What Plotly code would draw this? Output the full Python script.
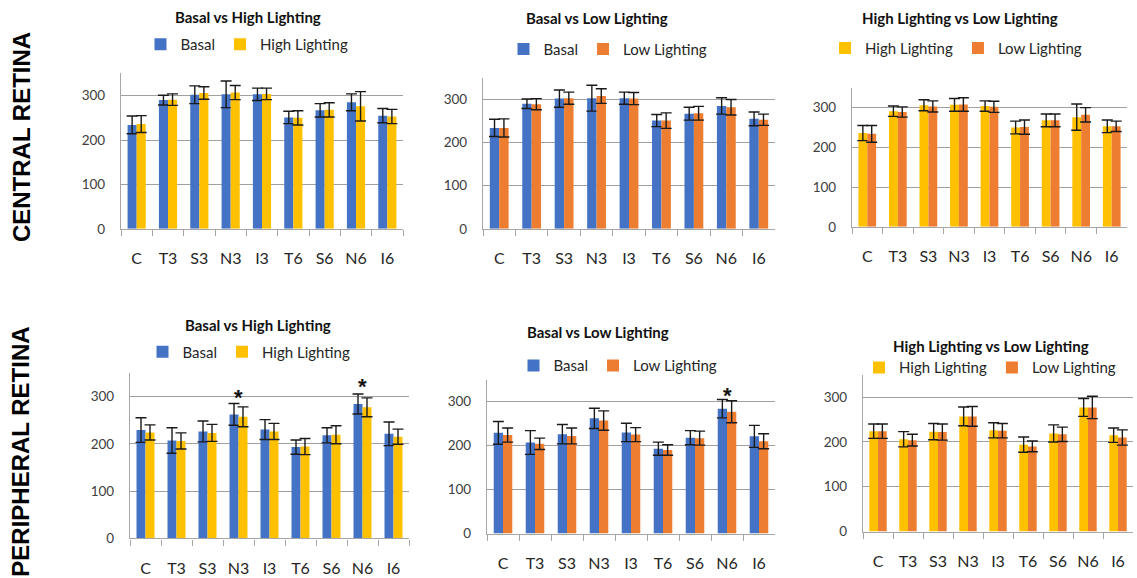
import plotly.graph_objects as go

# Retinal regions on the x axis
regions = ["C", "T3", "S3", "N3", "I3", "T6", "S6", "N6", "I6"]

# Central retina: means and SEM for each condition
central_basal = [234, 290, 302, 303, 303, 251, 267, 285, 255]
central_basal_err = [20, 11, 20, 30, 14, 14, 15, 19, 16]
central_high = [236, 291, 306, 307, 304, 250, 268, 276, 253]
central_high_err = [19, 13, 14, 16, 13, 16, 16, 33, 16]
central_low = [234, 289, 303, 308, 302, 251, 268, 282, 253]
central_low_err = [21, 13, 14, 17, 14, 18, 16, 18, 13]

# Peripheral retina: means and SEM for each condition
periph_basal = [229, 207, 226, 262, 230, 193, 218, 284, 221]
periph_basal_err = [26, 27, 22, 23, 21, 15, 16, 21, 25]
periph_high = [224, 206, 223, 257, 226, 194, 219, 277, 215]
periph_high_err = [16, 17, 18, 21, 17, 17, 19, 20, 16]
periph_low = [224, 204, 222, 257, 225, 190, 217, 277, 210]
periph_low_err = [16, 13, 18, 22, 16, 12, 16, 25, 17]

# Significant differences: (panel index, region, y position of the star)
significance = [(4, "N3", 306), (4, "N6", 329), (5, "N6", 324)]

W, H = 1137, 578
COLORS = {"Basal": "#4472C4", "High Lighting": "#FFC000", "Low Lighting": "#ED7D31"}
FONT = "Lato, 'Open Sans', Arial, sans-serif"


def px_x(v):
    return v / W


def px_y(v):
    return 1 - v / H


# Layout of each panel in pixels: x-left, x-right, y-zero, y-top, title centre, legend centre
panels = [
    dict(title="Basal vs High Lighting",
         series=[("Basal", central_basal, central_basal_err), ("High Lighting", central_high, central_high_err)],
         x0=121, x1=403, yz=232, yt=74.5, tx=248, ty=17, lx=247, ly=45),
    dict(title="Basal vs Low Lighting",
         series=[("Basal", central_basal, central_basal_err), ("Low Lighting", central_low, central_low_err)],
         x0=483, x1=775, yz=232, yt=79, tx=597, ty=18, lx=608, ly=50),
    dict(title="High Lighting vs Low Lighting",
         series=[("High Lighting", central_high, central_high_err), ("Low Lighting", central_low, central_low_err)],
         x0=852, x1=1127, yz=230, yt=89, tx=960, ty=18, lx=956, ly=49),
    dict(title="Basal vs High Lighting",
         series=[("Basal", periph_basal, periph_basal_err), ("High Lighting", periph_high, periph_high_err)],
         x0=130, x1=409, yz=546, yt=378, tx=258, ty=330, lx=249, ly=357),
    dict(title="Basal vs Low Lighting",
         series=[("Basal", periph_basal, periph_basal_err), ("Low Lighting", periph_low, periph_low_err)],
         x0=487, x1=775, yz=541, yt=385, tx=598, ty=337, lx=618, ly=371),
    dict(title="High Lighting vs Low Lighting",
         series=[("High Lighting", periph_high, periph_high_err), ("Low Lighting", periph_low, periph_low_err)],
         x0=863, x1=1133, yz=539, yt=380, tx=991, ty=351, lx=990, ly=373),
]

fig = go.Figure()
layout = dict(
    width=W, height=H,
    margin=dict(l=0, r=0, t=0, b=0),
    paper_bgcolor="white", plot_bgcolor="white",
    barmode="group", bargap=0.42,
    showlegend=True,
    font=dict(family=FONT, color="#404040"),
)
annotations = []

for i, p in enumerate(panels, start=1):
    sfx = "" if i == 1 else str(i)
    xa, ya = "x" + sfx, "y" + sfx
    leg = "legend" + sfx
    for name, vals, errs in p["series"]:
        fig.add_trace(go.Bar(
            x=regions, y=vals, name=name,
            marker=dict(color=COLORS[name], line=dict(width=0)),
            error_y=dict(type="data", array=errs, visible=True,
                         color="#1a1a1a", thickness=1.4, width=5.5),
            xaxis=xa, yaxis=ya, legend=leg,
        ))
    layout["xaxis" + sfx] = dict(
        domain=[px_x(p["x0"]), px_x(p["x1"])], anchor=ya,
        type="category", showline=True, linecolor="#a6a6a6", linewidth=1.3,
        ticks="outside", tickson="boundaries", ticklen=6, tickcolor="#a6a6a6",
        tickwidth=1.3, ticklabelstandoff=15, tickangle=0,
        tickfont=dict(size=16, color="#262626", family=FONT),
        showgrid=False, zeroline=False, fixedrange=True,
    )
    layout["yaxis" + sfx] = dict(
        domain=[px_y(p["yz"]), px_y(p["yt"])], anchor=xa,
        range=[0, 350], dtick=100, tick0=0,
        showline=True, linecolor="#a6a6a6", linewidth=1.3,
        showgrid=True, gridcolor="#a0a0a0", gridwidth=1.2,
        zeroline=False, ticks="", ticklabelstandoff=12,
        tickfont=dict(size=13.5, color="#404040", family=FONT),
        fixedrange=True,
    )
    layout[leg] = dict(
        orientation="h", x=px_x(p["lx"]), y=px_y(p["ly"]),
        xanchor="center", yanchor="middle",
        font=dict(size=15, color="#262626", family=FONT),
        bgcolor="rgba(0,0,0,0)", itemclick=False, itemdoubleclick=False,
        tracegroupgap=0,
    )
    annotations.append(dict(
        text="<b>" + p["title"] + "</b>", x=px_x(p["tx"]), y=px_y(p["ty"]),
        xref="paper", yref="paper", xanchor="center", yanchor="middle",
        showarrow=False, font=dict(size=15, color="#111111", family=FONT),
    ))

for panel_idx, region, ypos in significance:
    sfx = "" if panel_idx == 1 else str(panel_idx)
    annotations.append(dict(
        text="<b>*</b>", x=region, y=ypos, xref="x" + sfx, yref="y" + sfx,
        xanchor="center", yanchor="middle", yshift=-4, showarrow=False,
        font=dict(size=22, color="#111111", family="Liberation Sans, Arial"),
    ))

# Row labels
annotations.append(dict(
    text="<b>CENTRAL RETINA</b>", x=px_x(21), y=px_y(139), xref="paper", yref="paper",
    textangle=-90, showarrow=False, xanchor="center", yanchor="middle",
    font=dict(size=24, color="#000000", family="Liberation Sans, Arial"),
))
annotations.append(dict(
    text="<b>PERIPHERAL RETINA</b>", x=px_x(21), y=px_y(458), xref="paper", yref="paper",
    textangle=-90, showarrow=False, xanchor="center", yanchor="middle",
    font=dict(size=24, color="#000000", family="Liberation Sans, Arial"),
))

layout["annotations"] = annotations
fig.update_layout(**layout)
fig.write_html("out.html")
